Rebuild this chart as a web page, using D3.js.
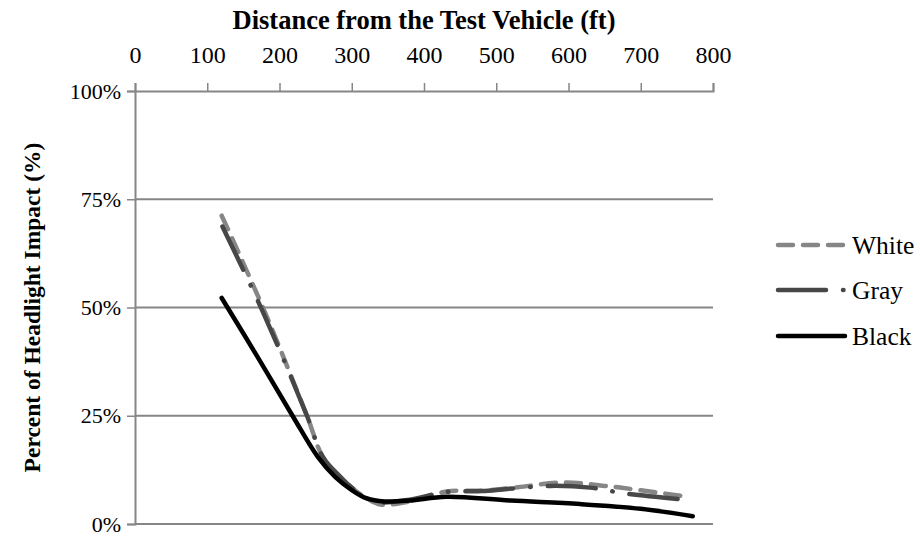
<!DOCTYPE html>
<html>
<head>
<meta charset="utf-8">
<script src="https://cdn.jsdelivr.net/npm/d3@7/dist/d3.min.js"></script>
<style>
  html, body { margin: 0; padding: 0; background: #fff; }
  svg { display: block; }
  text { font-family: "Liberation Serif", "Times New Roman", serif; fill: #000; }
</style>
</head>
<body>
<svg id="chart" width="920" height="537"></svg>
<script>
// ---- data ----
const xTicks = [0, 100, 200, 300, 400, 500, 600, 700, 800];
const yTicks = [0, 25, 50, 75, 100];
const seriesNames = ["White", "Gray", "Black"];

const whiteDist = [120, 177, 238, 260, 284, 304, 321, 340, 380, 431, 480, 530, 593, 650, 700, 768];
const whiteVals = [71.2, 50, 25, 15.5, 10.9, 7.85, 5.9, 4.5, 5.2, 7.5, 7.7, 8.5, 9.6, 8.8, 7.8, 6.2];

const grayDist = [121, 177, 238, 260, 284, 304, 321, 340, 380, 431, 480, 515, 575, 630, 680, 755];
const grayVals = [68.7, 49, 25, 15.5, 10.9, 7.85, 5.9, 5.0, 5.6, 7.4, 7.6, 8.1, 8.8, 8.4, 7.0, 5.7];

const blackDist = [120, 170, 218, 253, 277, 300, 321, 345, 380, 431, 520, 616, 700, 772];
const blackVals = [52.2, 38.5, 25, 15.5, 10.9, 7.85, 5.9, 5.2, 5.4, 6.3, 5.4, 4.6, 3.5, 1.8];

// ---- layout ----
const svg = d3.select("#chart");
const mLeft = 135, mRight = 713, mTop = 91, mBottom = 524;
const x = d3.scaleLinear().domain([0, 800]).range([mLeft, mRight]);
const y = d3.scaleLinear().domain([0, 100]).range([mBottom, mTop]);
const axisColor = "#868686";
const serif = '"Liberation Serif", "Times New Roman", serif';

// gridlines
svg.append("g").selectAll("line").data(yTicks.filter(d => d !== 100)).join("line")
  .attr("x1", mLeft).attr("x2", mRight)
  .attr("y1", d => y(d)).attr("y2", d => y(d))
  .attr("stroke", axisColor).attr("stroke-width", 2);

// top x axis
const xAxis = d3.axisTop(x).tickValues(xTicks).tickSize(8).tickPadding(20).tickFormat(d3.format("d"));
const gx = svg.append("g").attr("transform", `translate(0,${mTop})`).call(xAxis)
  .attr("font-family", null).attr("font-size", null);
gx.select(".domain").attr("stroke", axisColor).attr("stroke-width", 2);
gx.selectAll(".tick line").attr("stroke", axisColor).attr("stroke-width", 1.5);
gx.selectAll(".tick text").style("font-size", "24px").style("font-family", serif);

// left y axis
const yAxis = d3.axisLeft(y).tickValues(yTicks).tickSize(8).tickPadding(6).tickFormat(d => d + "%");
const gy = svg.append("g").attr("transform", `translate(${mLeft},0)`).call(yAxis)
  .attr("font-family", null).attr("font-size", null);
gy.select(".domain").attr("stroke", axisColor).attr("stroke-width", 2);
gy.selectAll(".tick line").attr("stroke", axisColor).attr("stroke-width", 1.5);
gy.selectAll(".tick text").style("font-size", "22px").style("font-family", serif);

// titles
svg.append("text").attr("x", 424).attr("y", 29).attr("text-anchor", "middle")
  .style("font-size", "26.5px").style("font-weight", "bold")
  .text("Distance from the Test Vehicle (ft)");
svg.append("text").attr("transform", `translate(40,${(mTop + mBottom) / 2}) rotate(-90)`)
  .attr("text-anchor", "middle")
  .style("font-size", "23.5px").style("font-weight", "bold")
  .text("Percent of Headlight Impact (%)");

// series
const styles = {
  White: { color: "#868686", dash: "15,10", width: 4.5 },
  Gray:  { color: "#474747", dash: "48,17,0.5,17", width: 4.5 },
  Black: { color: "#000000", dash: null, width: 4.5 }
};
const seriesData = {
  White: whiteDist.map((d, i) => [d, whiteVals[i]]),
  Gray: grayDist.map((d, i) => [d, grayVals[i]]),
  Black: blackDist.map((d, i) => [d, blackVals[i]])
};
const line = d3.line().x(d => x(d[0])).y(d => y(d[1])).curve(d3.curveCatmullRom.alpha(0.5));

seriesNames.forEach(name => {
  const s = styles[name];
  svg.append("path").datum(seriesData[name])
    .attr("d", line)
    .attr("fill", "none")
    .attr("stroke", s.color)
    .attr("stroke-width", s.width)
    .attr("stroke-linecap", "round")
    .attr("stroke-linejoin", "round")
    .attr("stroke-dasharray", s.dash);
});

// legend
const legendY = [245, 290, 336];
const lg = svg.append("g");
seriesNames.forEach((name, i) => {
  const s = styles[name];
  lg.append("line")
    .attr("x1", 778).attr("x2", 845)
    .attr("y1", legendY[i]).attr("y2", legendY[i])
    .attr("stroke", s.color).attr("stroke-width", s.width)
    .attr("stroke-linecap", "round")
    .attr("stroke-dasharray", s.dash);
  lg.append("text").attr("x", 852).attr("y", legendY[i]).attr("dy", "0.35em")
    .style("font-size", "25.5px").text(name);
});
</script>
</body>
</html>
